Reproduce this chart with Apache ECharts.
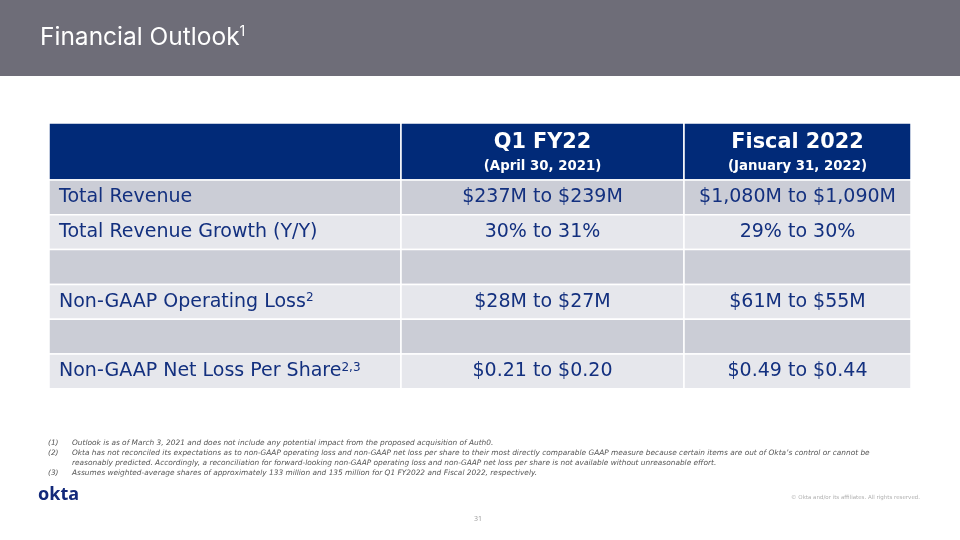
<!DOCTYPE html>
<html>
<head>
<meta charset="utf-8">
<title>Financial Outlook</title>
<script src="https://cdn.jsdelivr.net/npm/echarts@6/dist/echarts.min.js"></script>
<style>
  html, body { margin: 0; padding: 0; background: #fff; }
  #chart { width: 960px; height: 540px; }
</style>
</head>
<body>
<div id="chart"></div>
<script>
// ---- table data ----
const periods = ['Q1 FY22', 'Fiscal 2022']
const periodDates = ['(April 30, 2021)', '(January 31, 2022)']
const metrics = ['Total Revenue', 'Total Revenue Growth (Y/Y)', '', 'Non-GAAP Operating Loss', '', 'Non-GAAP Net Loss Per Share']
const metricNotes = ['', '', '', '2', '', '2,3']
const q1Values = ['$237M to $239M', '30% to 31%', '', '$28M to $27M', '', '$0.21 to $0.20']
const fyValues = ['$1,080M to $1,090M', '29% to 30%', '', '$61M to $55M', '', '$0.49 to $0.44']

const footnoteMarks = ['(1)', '(2)', '', '(3)']
const footnoteLines = [
  'Outlook is as of March 3, 2021 and does not include any potential impact from the proposed acquisition of Auth0.',
  'Okta has not reconciled its expectations as to non-GAAP operating loss and non-GAAP net loss per share to their most directly comparable GAAP measure because certain items are out of Okta’s control or cannot be',
  'reasonably predicted. Accordingly, a reconciliation for forward-looking non-GAAP operating loss and non-GAAP net loss per share is not available without unreasonable effort.',
  'Assumes weighted-average shares of approximately 133 million and 135 million for Q1 FY2022 and Fiscal 2022, respectively.'
]

// ---- layout (units of the hidden axes) ----
const colEdges = [0, 352, 635, 862]
const headerHeight = 57
const rowHeight = 34.8
const tableHeight = headerHeight + rowHeight * metrics.length

const NAVY = '#012a78'
const TEXT = '#13307f'
const FONT = '"DejaVu Sans", sans-serif'

// one cell per [column, row]; row -1 is the header
const cells = []
for (let r = -1; r < metrics.length; r++) {
  for (let c = 0; c < 3; c++) cells.push([c, r])
}

function cellText(c, r) {
  if (c === 0) return metrics[r] + (metricNotes[r] ? '{sup|' + metricNotes[r] + '}' : '')
  return c === 1 ? q1Values[r] : fyValues[r]
}

/**
 * draw one table cell through the axes
 */
function renderCell(params, api) {
  const c = api.value(0)
  const r = api.value(1)
  const y0 = r < 0 ? 0 : headerHeight + r * rowHeight
  const y1 = r < 0 ? headerHeight : y0 + rowHeight
  const p0 = api.coord([colEdges[c], y0])
  const p1 = api.coord([colEdges[c + 1], y1])
  const fill = r < 0 ? NAVY : (r % 2 === 0 ? '#cbcdd6' : '#e6e7ec')
  const children = [{
    type: 'rect',
    shape: { x: p0[0], y: p0[1], width: p1[0] - p0[0], height: p1[1] - p0[1] },
    style: { fill, stroke: '#fff', lineWidth: 1.5 }
  }]
  const cx = (p0[0] + p1[0]) / 2
  const cy = (p0[1] + p1[1]) / 2
  if (r < 0) {
    if (c > 0) {
      children.push({
        type: 'text',
        style: { x: cx, y: cy - 9, text: periods[c - 1], fill: '#fff', fontFamily: FONT, fontWeight: 'bold', fontSize: 20.8, align: 'center', verticalAlign: 'middle' }
      }, {
        type: 'text',
        style: { x: cx, y: cy + 15, text: periodDates[c - 1], fill: '#fff', fontFamily: FONT, fontWeight: 'bold', fontSize: 13.3, align: 'center', verticalAlign: 'middle' }
      })
    }
  } else {
    children.push({
      type: 'text',
      style: {
        x: c === 0 ? p0[0] + 10 : cx,
        y: cy,
        text: cellText(c, r),
        fill: TEXT,
        fontFamily: FONT,
        fontSize: 19,
        lineHeight: 19,
        align: c === 0 ? 'left' : 'center',
        verticalAlign: 'middle',
        rich: {
          sup: { fontSize: 12, fontFamily: FONT, fill: TEXT, verticalAlign: 'top', lineHeight: 19 }
        }
      }
    })
  }
  return { type: 'group', children }
}

const chart = echarts.init(document.getElementById('chart'))

const footnoteGraphics = []
footnoteLines.forEach((line, i) => {
  const y = 444 + i * 9.7
  if (footnoteMarks[i]) {
    footnoteGraphics.push({
      type: 'text', left: 48, top: y - 4,
      style: { text: footnoteMarks[i], fill: '#555', font: 'italic 7.4px "DejaVu Sans", sans-serif' }
    })
  }
  footnoteGraphics.push({
    type: 'text', left: 72, top: y - 4,
    style: { text: line, fill: '#555', font: 'italic 7.4px "DejaVu Sans", sans-serif' }
  })
})

chart.setOption({
  animation: false,
  grid: { left: 49, right: 49, top: 123, height: tableHeight },
  xAxis: { type: 'value', min: 0, max: colEdges[colEdges.length - 1], show: false },
  yAxis: { type: 'value', min: 0, max: tableHeight, inverse: true, show: false },
  series: [{
    type: 'custom',
    renderItem: renderCell,
    data: cells,
    silent: true
  }],
  graphic: [
    { type: 'rect', left: 0, top: 0, shape: { width: 960, height: 76 }, style: { fill: '#6e6d78' } },
    {
      type: 'text', left: 40, top: 25,
      style: {
        text: 'Financial Outlook{sup|1}',
        fill: '#fff', fontFamily: 'Inter, sans-serif', fontSize: 24.5, lineHeight: 26,
        rich: { sup: { fontSize: 14, fill: '#fff', fontFamily: 'Inter, sans-serif', verticalAlign: 'top', lineHeight: 26 } }
      }
    },
    ...footnoteGraphics,
    { type: 'text', left: 38, top: 486, style: { text: 'okta', fill: '#13297a', font: 'bold 18px "Noto Sans", sans-serif' } },
    { type: 'text', right: 40, top: 495, style: { text: '© Okta and/or its affiliates. All rights reserved.', fill: '#b0b0b0', font: '5.5px "DejaVu Sans", sans-serif' } },
    { type: 'text', left: 474, top: 515, style: { text: '31', fill: '#a0a0a0', font: '7px "Noto Sans", sans-serif' } }
  ]
})
</script>
</body>
</html>
